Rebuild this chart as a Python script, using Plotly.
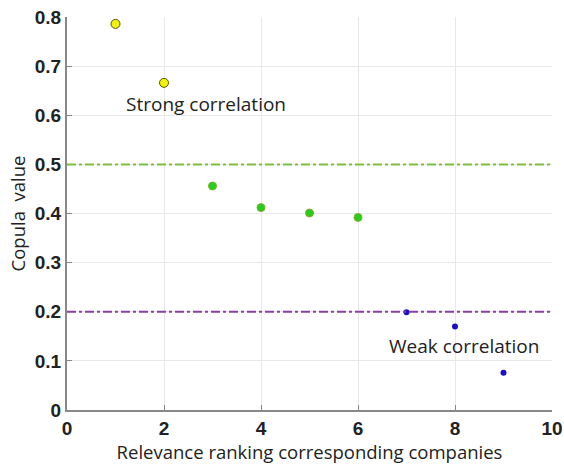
import plotly.graph_objects as go

strong_x = [1, 2]
strong_y = [0.786, 0.666]
mid_x = [3, 4, 5, 6]
mid_y = [0.456, 0.412, 0.401, 0.392]
weak_x = [7, 8, 9]
weak_y = [0.199, 0.170, 0.076]
strong_threshold = 0.5
weak_threshold = 0.2
x_ticks = [0, 2, 4, 6, 8, 10]
y_ticks = [0, 0.1, 0.2, 0.3, 0.4, 0.5, 0.6, 0.7, 0.8]
y_tick_labels = ["0", "0.1", "0.2", "0.3", "0.4", "0.5", "0.6", "0.7", "0.8"]

fig = go.Figure()
fig.add_hline(y=strong_threshold, line=dict(color="#7cbf3a", width=2, dash="dashdot"), layer="above")
fig.add_hline(y=weak_threshold, line=dict(color="#8a3fa8", width=2, dash="dashdot"), layer="above")
fig.add_trace(go.Scatter(x=strong_x, y=strong_y, mode="markers",
                         marker=dict(size=9, color="#f2f20a", line=dict(color="#555500", width=1))))
fig.add_trace(go.Scatter(x=mid_x, y=mid_y, mode="markers",
                         marker=dict(size=8, color="#22d01a", line=dict(color="#88aa33", width=1))))
fig.add_trace(go.Scatter(x=weak_x, y=weak_y, mode="markers",
                         marker=dict(size=6, color="#1a10c8", line=dict(color="#1a10c8", width=0))))

fig.add_annotation(x=1.17, y=0.623, text="Strong correlation", showarrow=False, xanchor="left",
                   font=dict(family="Open Sans", size=19, color="#222"))
fig.add_annotation(x=6.6, y=0.13, text="Weak correlation", showarrow=False, xanchor="left",
                   font=dict(family="Open Sans", size=19, color="#222"))

fig.update_layout(
    width=564, height=468,
    margin=dict(l=67, r=12, t=17, b=58, autoexpand=False),
    paper_bgcolor="white", plot_bgcolor="white",
    showlegend=False,
)
fig.update_xaxes(range=[0, 10], tickvals=x_ticks, ticks="inside", ticklen=5, tickcolor="#888",
                 showgrid=True, gridcolor="#e8e8e8", gridwidth=1, automargin=False,
                 ticklabeloverflow="allow",
                 showline=True, linecolor="#888", linewidth=2, zeroline=False,
                 tickfont=dict(family="Liberation Sans", size=19, color="#222", weight="bold"),
                 title=dict(text="Relevance ranking corresponding companies", standoff=4,
                            font=dict(family="Open Sans", size=18.5, color="#222")))
fig.update_yaxes(range=[0, 0.8], tickvals=y_ticks, ticktext=y_tick_labels, ticks="inside", ticklen=5, tickcolor="#888",
                 showgrid=True, gridcolor="#e8e8e8", gridwidth=1, automargin=False,
                 ticklabeloverflow="allow",
                 showline=True, linecolor="#888", linewidth=2, zeroline=False,
                 tickfont=dict(family="Liberation Sans", size=19, color="#222", weight="bold"),
                 title=dict(text="Copula  value", standoff=4,
                            font=dict(family="Open Sans", size=18.5, color="#222")))
fig.write_html("out.html", config={"displayModeBar": False},
               post_script="document.body.style.margin='0';document.body.style.overflow='hidden';")
